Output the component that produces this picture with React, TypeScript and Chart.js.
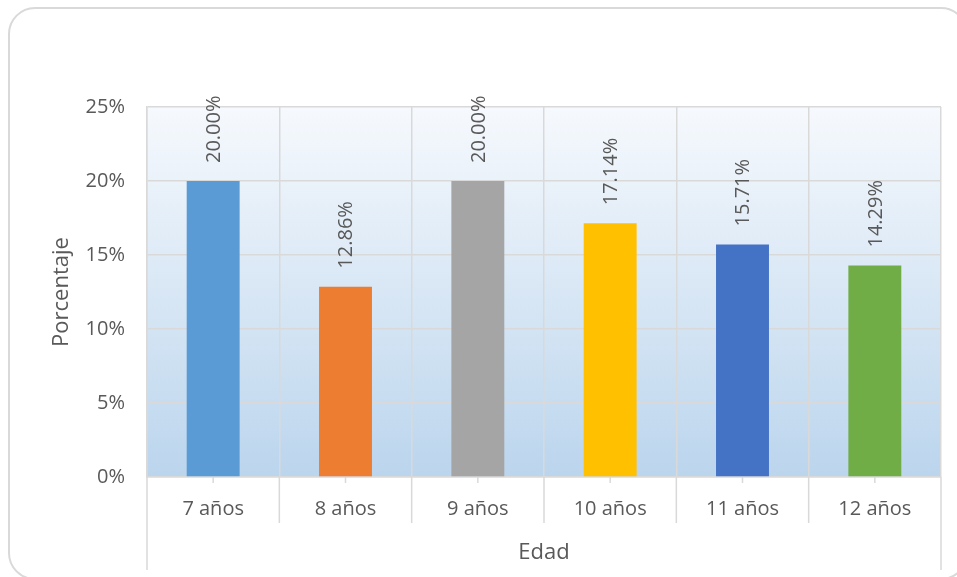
import React, { useEffect, useRef } from "react";
import { Chart, registerables } from "chart.js";

Chart.register(...registerables);

const categories = ["7 años", "8 años", "9 años", "10 años", "11 años", "12 años"];
const percentages = [20.0, 12.86, 20.0, 17.14, 15.71, 14.29];
const barColors = ["#5B9BD5", "#ED7D31", "#A5A5A5", "#FFC000", "#4472C4", "#70AD47"];
const yTicks = [0, 5, 10, 15, 20, 25];
const yTitle = "Porcentaje";
const xTitle = "Edad";

const FONT = "'Open Sans', sans-serif";
const TEXT = "#595959";
const GRID = "#D9D9D9";

const decorPlugin = {
  id: "decor",
  beforeDraw(chart: any) {
    const { ctx, chartArea } = chart;
    const { left, top, right, bottom } = chartArea;
    ctx.save();
    // outer rounded border
    ctx.strokeStyle = GRID;
    ctx.lineWidth = 2;
    ctx.beginPath();
    (ctx as any).roundRect(9, 8, 958, 571, 26);
    ctx.stroke();
    // plot area gradient
    const g = ctx.createLinearGradient(0, top, 0, bottom);
    g.addColorStop(0, "#F6F9FD");
    g.addColorStop(1, "#BBD5ED");
    ctx.fillStyle = g;
    ctx.fillRect(left, top, right - left, bottom - top);
    ctx.restore();
  },
  afterDraw(chart: any) {
    const { ctx, chartArea } = chart;
    const { left, top, right, bottom } = chartArea;
    const n = categories.length;
    const w = (right - left) / n;
    ctx.save();
    ctx.strokeStyle = GRID;
    ctx.lineWidth = 1.5;
    for (let i = 0; i <= n; i++) {
      const x = left + i * w;
      ctx.beginPath();
      ctx.moveTo(x, bottom);
      ctx.lineTo(x, i === 0 || i === n ? 570 : 523);
      ctx.stroke();
    }
    for (let i = 0; i < n; i++) {
      const x = left + (i + 0.5) * w;
      ctx.beginPath();
      ctx.moveTo(x, bottom);
      ctx.lineTo(x, bottom + 6);
      ctx.stroke();
    }
    ctx.fillStyle = TEXT;
    ctx.font = `22px ${FONT}`;
    ctx.textAlign = "center";
    ctx.textBaseline = "middle";
    ctx.fillText(xTitle, (left + right) / 2, 553);
    ctx.translate(62, (top + bottom) / 2);
    ctx.rotate(-Math.PI / 2);
    ctx.fillText(yTitle, 0, 0);
    ctx.restore();
  },
  afterDatasetsDraw(chart: any) {
    const { ctx } = chart;
    const meta = chart.getDatasetMeta(0);
    ctx.save();
    ctx.fillStyle = TEXT;
    ctx.font = `20px ${FONT}`;
    ctx.textAlign = "left";
    ctx.textBaseline = "middle";
    meta.data.forEach((bar: any, i: number) => {
      ctx.save();
      ctx.translate(bar.x, bar.y - 18);
      ctx.rotate(-Math.PI / 2);
      ctx.fillText(percentages[i].toFixed(2) + "%", 0, 1);
      ctx.restore();
    });
    ctx.restore();
  },
};

export default function App() {
  const ref = useRef<HTMLCanvasElement | null>(null);
  useEffect(() => {
    if (!ref.current) return;
    const chart = new Chart(ref.current, {
      type: "bar",
      data: {
        labels: categories,
        datasets: [
          {
            data: percentages,
            backgroundColor: barColors,
            barPercentage: 0.4,
            categoryPercentage: 1,
          },
        ],
      },
      options: {
        animation: false,
        responsive: false,
        devicePixelRatio: 1,
        layout: { padding: { top: 107, right: 16, left: 0, bottom: 0 } },
        plugins: { legend: { display: false }, tooltip: { enabled: false } },
        scales: {
          y: {
            min: 0,
            max: 25,
            afterBuildTicks: (s: any) => {
              s.ticks = yTicks.map((v) => ({ value: v }));
            },
            afterFit: (s: any) => {
              s.width = 147;
            },
            ticks: {
              callback: (v: any) => v + "%",
              font: { family: FONT, size: 20 },
              color: TEXT,
              padding: 22,
            },
            grid: { color: GRID, lineWidth: 1.5, drawTicks: false },
            border: { display: true, color: GRID, width: 1.5 },
          },
          x: {
            afterFit: (s: any) => {
              s.height = 100;
            },
            ticks: {
              font: { family: FONT, size: 20 },
              color: TEXT,
              padding: 20,
              maxRotation: 0,
            },
            grid: { offset: true, color: GRID, lineWidth: 1.5, drawTicks: false },
            border: { display: true, color: GRID, width: 1.5 },
          },
        },
      },
      plugins: [decorPlugin],
    } as any);
    return () => chart.destroy();
  }, []);
  return (
    <div style={{ position: "fixed", left: 0, top: 0, width: 957, height: 577, background: "#fff" }}>
      <canvas ref={ref} width={957} height={577} style={{ display: "block" }} />
    </div>
  );
}
